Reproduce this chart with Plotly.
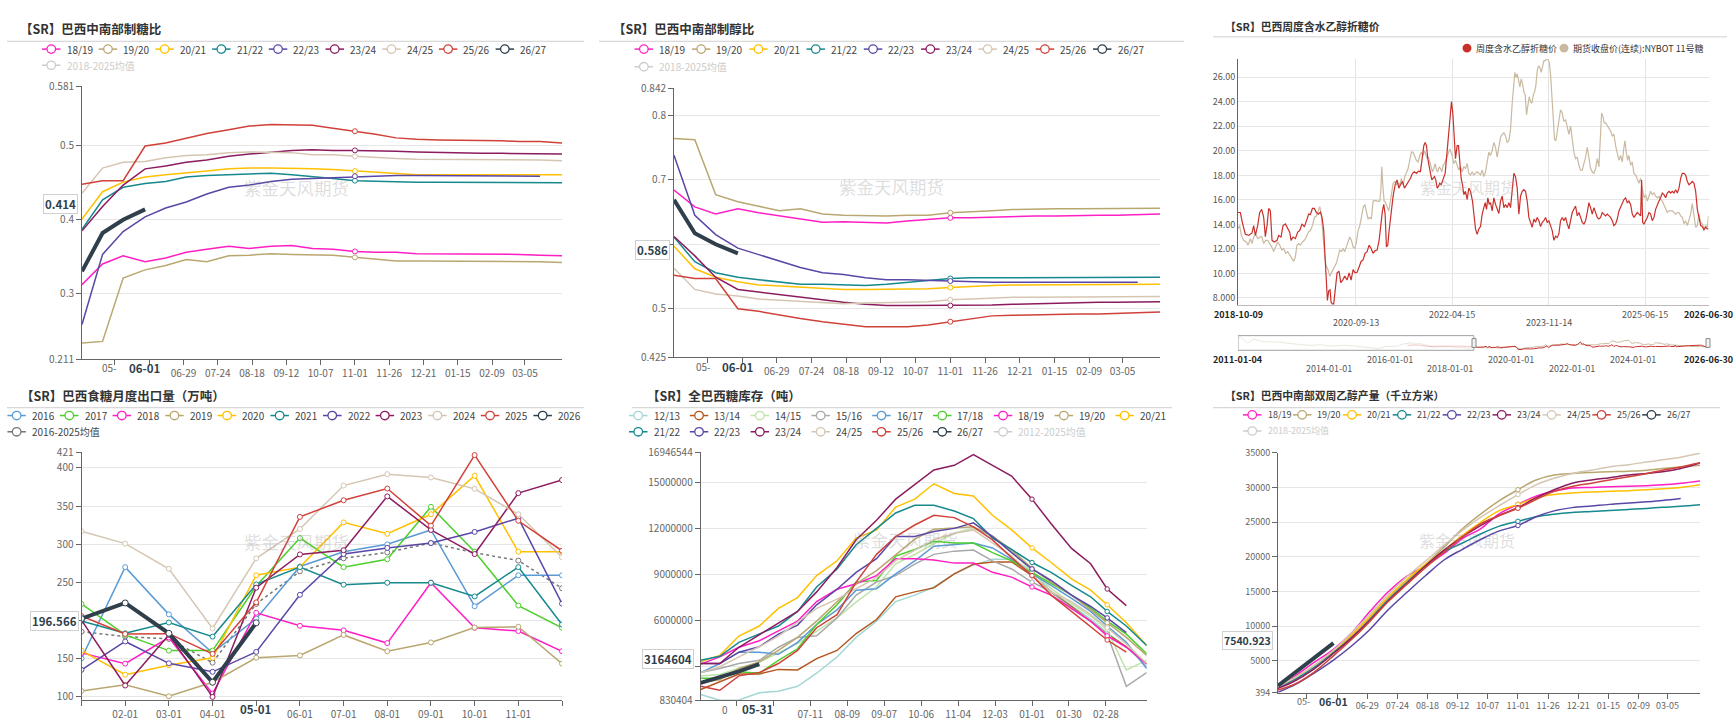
import plotly.graph_objects as go
import pandas as pd

W, H = 1734, 726
FONT = "Noto Sans CJK SC, Noto Sans, sans-serif"


def fx(p):
    return p / W


def fy(p):
    return 1 - p / H


# ===================== DATA =====================
season_dates = ['2025-04-16', '2025-05-01', '2025-05-16', '2025-06-01', '2025-06-16', '2025-07-01',
                '2025-07-16', '2025-08-01', '2025-08-16', '2025-09-01', '2025-09-16', '2025-10-01',
                '2025-10-16', '2025-11-01', '2025-11-16', '2025-12-01', '2025-12-16', '2026-01-01',
                '2026-01-16', '2026-02-01', '2026-02-16', '2026-03-01', '2026-03-16', '2026-04-01']

# --- panel 1: sugar mix (制糖比)
sugar_mix_1819 = [0.312, 0.34, 0.351, 0.343, 0.348, 0.356, 0.36, 0.364, 0.361, 0.364, 0.365, 0.361, 0.36, 0.357, 0.356, 0.356, 0.354, 0.354, 0.354, 0.353, 0.353, 0.353, 0.352, 0.351]
sugar_mix_1920 = [0.233, 0.235, 0.321, 0.332, 0.338, 0.346, 0.343, 0.351, 0.352, 0.354, 0.353, 0.352, 0.352, 0.349, 0.347, 0.344, 0.344, 0.344, 0.344, 0.344, 0.344, 0.344, 0.343, 0.342]
sugar_mix_2021 = [0.401, 0.438, 0.451, 0.458, 0.461, 0.464, 0.466, 0.469, 0.47, 0.47, 0.47, 0.469, 0.468, 0.466, 0.464, 0.462, 0.461, 0.461, 0.461, 0.461, 0.461, 0.461, 0.461, 0.461]
sugar_mix_2122 = [0.387, 0.427, 0.444, 0.449, 0.452, 0.458, 0.46, 0.461, 0.462, 0.463, 0.461, 0.459, 0.456, 0.453, 0.452, 0.451, 0.451, 0.451, 0.451, 0.451, 0.451, 0.451, 0.451, 0.45]
sugar_mix_2223 = [0.258, 0.353, 0.384, 0.404, 0.416, 0.424, 0.435, 0.444, 0.447, 0.452, 0.455, 0.456, 0.457, 0.459, 0.46, 0.46, 0.46, 0.46, 0.459, 0.459, 0.459, 0.459, 0.459]
sugar_mix_2324 = [0.385, 0.418, 0.447, 0.469, 0.473, 0.478, 0.481, 0.486, 0.489, 0.492, 0.494, 0.495, 0.494, 0.494, 0.494, 0.493, 0.492, 0.491, 0.491, 0.49, 0.49, 0.49, 0.49, 0.489]
sugar_mix_2425 = [0.436, 0.47, 0.478, 0.479, 0.484, 0.487, 0.488, 0.491, 0.492, 0.492, 0.491, 0.488, 0.488, 0.486, 0.484, 0.483, 0.482, 0.482, 0.482, 0.482, 0.481, 0.481, 0.481, 0.48]
sugar_mix_2526 = [0.448, 0.453, 0.453, 0.5, 0.504, 0.511, 0.517, 0.522, 0.527, 0.529, 0.529, 0.528, 0.524, 0.52, 0.516, 0.511, 0.509, 0.508, 0.508, 0.507, 0.507, 0.506, 0.506, 0.504]
sugar_mix_2627 = [0.33, 0.382, 0.40, 0.414]

# --- panel 2: ethanol mix (制醇比)
eth_mix_1819 = [0.684, 0.658, 0.647, 0.655, 0.649, 0.644, 0.639, 0.634, 0.635, 0.634, 0.633, 0.636, 0.638, 0.641, 0.641, 0.642, 0.644, 0.644, 0.644, 0.645, 0.645, 0.645, 0.646, 0.647]
eth_mix_1920 = [0.764, 0.762, 0.677, 0.666, 0.659, 0.652, 0.655, 0.647, 0.645, 0.644, 0.644, 0.645, 0.645, 0.649, 0.65, 0.652, 0.654, 0.655, 0.655, 0.655, 0.655, 0.655, 0.656, 0.656]
eth_mix_2021 = [0.597, 0.562, 0.549, 0.542, 0.537, 0.535, 0.533, 0.531, 0.53, 0.53, 0.53, 0.53, 0.531, 0.533, 0.535, 0.536, 0.537, 0.537, 0.537, 0.537, 0.537, 0.537, 0.538, 0.538]
eth_mix_2122 = [0.611, 0.573, 0.556, 0.549, 0.545, 0.541, 0.538, 0.538, 0.537, 0.536, 0.538, 0.541, 0.544, 0.547, 0.548, 0.548, 0.549, 0.549, 0.549, 0.549, 0.549, 0.549, 0.549, 0.549]
eth_mix_2223 = [0.738, 0.645, 0.615, 0.594, 0.584, 0.574, 0.564, 0.556, 0.553, 0.548, 0.545, 0.545, 0.544, 0.543, 0.541, 0.541, 0.541, 0.541, 0.541, 0.541, 0.541, 0.541, 0.541]
eth_mix_2324 = [0.612, 0.582, 0.549, 0.53, 0.526, 0.522, 0.519, 0.514, 0.51, 0.507, 0.505, 0.505, 0.505, 0.505, 0.506, 0.506, 0.507, 0.508, 0.509, 0.509, 0.51, 0.51, 0.51, 0.511]
eth_mix_2425 = [0.563, 0.53, 0.523, 0.52, 0.515, 0.513, 0.511, 0.509, 0.508, 0.509, 0.509, 0.51, 0.511, 0.514, 0.515, 0.517, 0.518, 0.518, 0.518, 0.518, 0.518, 0.519, 0.519, 0.519]
eth_mix_2526 = [0.552, 0.547, 0.547, 0.5, 0.496, 0.49, 0.485, 0.48, 0.476, 0.472, 0.472, 0.472, 0.475, 0.48, 0.485, 0.489, 0.49, 0.491, 0.491, 0.492, 0.492, 0.493, 0.493, 0.495]
eth_mix_2627 = [0.669, 0.617, 0.60, 0.586]

# --- panel 3: weekly hydrous ethanol sugar-equivalent price & NYBOT 11 (day offset from 2018-10-09, value)
ethanol_parity = [
    (0, 14.97), (14, 14.97), (28, 14.04), (44, 13.2), (64, 13.1), (84, 13.3), (94, 13.9), (104, 13.1), (118, 13.9), (130, 14.97),
    (142, 15.23), (154, 14.57), (164, 13.0), (174, 13.9), (184, 15.3), (194, 15.1), (204, 12.7), (218, 12.57), (234, 12.7), (244, 13.1),
    (258, 12.97), (270, 13.9), (284, 14.04), (298, 13.64), (310, 13.37), (318, 12.7), (330, 12.97), (344, 12.84), (358, 13.37), (370, 13.5),
    (384, 14.04), (398, 13.8), (410, 14.3), (424, 14.84), (434, 14.8), (446, 15.3), (458, 15.3), (470, 14.97), (482, 14.84), (494, 15.0),
    (504, 14.57), (514, 13.5), (522, 11.38), (530, 9.78), (536, 7.79), (544, 8.59), (552, 8.66), (558, 7.65), (566, 7.52), (574, 7.52),
    (584, 8.59), (594, 10.05), (606, 10.18), (616, 9.25), (628, 9.46), (640, 9.78), (654, 9.46), (666, 10.05), (678, 9.46), (690, 10.31),
    (702, 10.05), (714, 10.1), (726, 10.53), (738, 10.98), (750, 11.11), (762, 11.64), (774, 11.78), (786, 12.31), (798, 12.04), (810, 11.64),
    (822, 11.86), (834, 11.91), (846, 12.7), (856, 14.04), (866, 15.1), (874, 15.63), (882, 14.84), (890, 12.17), (898, 12.31), (906, 13.5),
    (914, 14.7), (922, 15.37), (930, 16.3), (942, 17.23), (954, 17.63), (964, 16.96), (974, 17.23), (986, 17.5), (998, 16.96), (1010, 17.23),
    (1022, 17.5), (1034, 17.76), (1046, 18.16), (1058, 18.3), (1070, 18.16), (1082, 18.35), (1094, 18.3), (1106, 19.36), (1114, 20.42), (1122, 20.69),
    (1130, 20.42), (1138, 19.36), (1146, 18.56), (1154, 18.16), (1162, 17.63), (1170, 17.76), (1178, 17.9), (1186, 17.63), (1194, 16.96), (1202, 17.1),
    (1210, 17.36), (1218, 17.23), (1226, 17.5), (1234, 17.76), (1242, 18.16), (1250, 19.36), (1258, 20.69), (1266, 21.75), (1274, 23.08), (1280, 24.01),
    (1288, 23.08), (1296, 20.96), (1304, 19.36), (1314, 20.42), (1322, 20.42), (1330, 19.09), (1338, 17.76), (1346, 17.23), (1354, 16.43), (1364, 16.7),
    (1374, 16.03), (1384, 16.96), (1394, 16.7),
    (1406, 15.9), (1414, 14.57), (1424, 13.64), (1434, 13.19), (1444, 13.64), (1454, 13.82), (1464, 14.84), (1474, 15.37), (1482, 15.77), (1490, 15.23),
    (1498, 16.17), (1506, 15.63), (1514, 15.77), (1524, 15.1), (1534, 16.17), (1544, 15.63), (1554, 15.23), (1564, 14.89), (1574, 15.9), (1584, 16.3),
    (1594, 15.37), (1604, 15.63), (1614, 15.37), (1624, 15.77), (1634, 15.37), (1644, 16.7), (1654, 18.16), (1664, 17.9), (1674, 16.96), (1684, 14.84),
    (1694, 16.3), (1704, 16.7), (1714, 16.83), (1724, 16.7), (1734, 15.9), (1744, 14.57), (1754, 14.17), (1764, 13.77), (1774, 14.44), (1784, 14.17),
    (1794, 14.57), (1804, 14.3), (1814, 13.82), (1824, 14.17), (1834, 14.3), (1844, 14.57), (1854, 14.17), (1864, 14.3), (1874, 13.9), (1884, 13.5),
    (1894, 12.7), (1904, 13.03), (1914, 12.92), (1924, 13.24), (1934, 14.3), (1944, 14.57), (1954, 14.3), (1964, 14.57), (1974, 14.04), (1984, 13.64),
    (1994, 14.3), (2004, 14.97), (2014, 15.23), (2024, 15.5), (2034, 14.7), (2044, 14.97), (2054, 14.57), (2064, 14.17), (2074, 14.04), (2084, 14.3),
    (2094, 14.97), (2104, 15.77), (2114, 15.37), (2124, 14.84), (2134, 15.37), (2144, 14.97), (2154, 14.57), (2164, 14.44), (2174, 14.57), (2184, 14.97),
    (2194, 14.84), (2204, 14.7), (2214, 14.84), (2224, 14.7), (2234, 14.57), (2244, 14.3), (2254, 13.9), (2264, 14.04), (2274, 14.44), (2284, 15.1),
    (2294, 15.37), (2304, 15.77), (2314, 16.03), (2324, 16.17), (2334, 15.77), (2344, 15.9), (2354, 15.63), (2364, 14.84), (2374, 14.57), (2384, 14.78),
    (2394, 14.97), (2404, 14.84), (2414, 14.7), (2420, 17.63), (2426, 14.17), (2434, 14.04), (2444, 14.3), (2454, 14.57), (2464, 14.97), (2474, 14.84),
    (2484, 14.3), (2494, 14.57), (2504, 15.23), (2514, 15.63), (2524, 15.9), (2534, 16.17), (2544, 16.56), (2554, 16.43), (2564, 16.17), (2574, 16.56),
    (2584, 16.7), (2594, 16.56), (2604, 16.7), (2614, 16.56), (2624, 16.83), (2634, 16.56), (2644, 16.96), (2654, 17.76), (2664, 18.16), (2674, 18.16),
    (2684, 18.03), (2694, 17.5), (2704, 17.23), (2714, 17.36), (2724, 17.5), (2734, 17.36), (2744, 16.7), (2754, 15.23), (2764, 14.57), (2774, 13.9),
    (2784, 13.82), (2794, 13.56), (2804, 13.77), (2814, 13.64), (2821, 13.64)]

nybot11 = [
    (0, 13.64), (10, 13.9), (20, 13.1), (34, 12.7), (50, 12.57), (60, 12.31), (74, 12.84), (84, 12.44), (94, 12.97), (106, 13.24),
    (118, 12.84), (130, 12.97), (142, 13.03), (154, 12.44), (166, 12.7), (178, 12.7), (190, 12.44), (202, 12.17), (214, 11.78), (226, 12.17),
    (238, 12.57), (250, 12.31), (262, 11.91), (274, 12.04), (286, 11.64), (298, 11.78), (310, 11.51), (322, 11.24), (334, 10.98), (344, 11.38),
    (354, 12.31), (364, 12.44), (374, 12.31), (386, 12.57), (398, 12.7), (410, 12.97), (422, 13.37), (434, 13.5), (446, 13.9), (458, 14.57),
    (470, 14.7), (482, 15.1), (490, 15.45), (498, 14.97), (506, 13.5), (514, 12.44), (522, 11.11), (530, 10.58), (540, 10.31), (550, 9.78),
    (560, 10.05), (570, 10.31), (580, 10.71), (590, 10.85), (600, 11.38), (610, 11.91), (620, 11.78), (630, 12.04), (640, 11.78), (650, 12.17),
    (660, 12.44), (670, 12.97), (680, 12.7), (690, 12.17), (700, 12.04), (710, 12.57), (720, 13.5), (730, 13.9), (740, 14.57), (750, 15.37),
    (760, 15.63), (770, 15.1), (780, 14.44), (790, 14.57), (800, 14.44), (810, 15.9), (818, 15.95), (826, 15.95), (834, 15.9), (842, 15.9),
    (850, 15.9), (856, 16.7), (862, 18.69), (868, 17.23), (876, 15.9), (884, 15.8), (894, 15.37), (904, 15.1), (914, 15.9), (922, 16.7),
    (930, 17.36), (940, 17.5), (950, 17.23), (960, 17.36), (970, 17.23), (980, 17.76), (990, 17.23), (1000, 17.9), (1010, 18.29), (1020, 18.56),
    (1030, 19.22), (1040, 19.89), (1050, 19.89), (1060, 19.62), (1070, 19.22), (1080, 19.09), (1090, 19.62), (1100, 19.89), (1110, 19.62), (1118, 20.02),
    (1126, 19.62), (1134, 19.36), (1142, 19.49), (1150, 19.09), (1158, 18.82), (1166, 18.29), (1174, 18.56), (1182, 18.96), (1190, 18.43), (1198, 18.29),
    (1206, 18.69), (1214, 18.56), (1222, 18.29), (1230, 18.82), (1238, 18.96), (1246, 19.22), (1254, 19.62), (1262, 19.89), (1270, 20.15),
    (1284, 19.62), (1294, 18.96), (1304, 19.22), (1314, 18.82), (1324, 18.43), (1334, 18.69), (1344, 18.29), (1354, 18.69), (1364, 18.56), (1374, 18.96),
    (1384, 18.16), (1394, 18.03), (1404, 18.29), (1414, 18.03), (1424, 18.16), (1434, 18.29), (1444, 18.16), (1454, 18.03), (1464, 18.43), (1474, 17.9),
    (1484, 18.29), (1494, 19.22), (1504, 19.89), (1514, 19.62), (1524, 20.02), (1534, 20.69), (1544, 20.29), (1554, 19.49), (1564, 20.29), (1574, 21.09),
    (1584, 21.35), (1594, 21.48), (1604, 21.22), (1614, 20.69), (1624, 20.82), (1634, 21.75), (1644, 23.88), (1654, 25.61), (1660, 26.4), (1666, 26.0),
    (1674, 26.27), (1682, 25.74), (1690, 25.21), (1698, 25.87), (1706, 25.47), (1714, 24.81), (1722, 24.54), (1730, 22.95), (1738, 23.74), (1746, 24.41),
    (1754, 24.01), (1762, 23.88), (1770, 24.54), (1778, 24.81), (1786, 25.34), (1794, 26.54), (1802, 26.94), (1810, 26.8), (1818, 26.4), (1826, 26.8),
    (1834, 27.34), (1842, 27.34), (1850, 27.52), (1858, 27.46), (1866, 27.2), (1874, 26.27), (1882, 24.41), (1890, 22.28), (1898, 20.95), (1906, 20.82),
    (1914, 21.62), (1924, 22.41), (1934, 23.35), (1944, 23.08), (1954, 22.41), (1964, 22.55), (1974, 21.88), (1984, 21.35), (1994, 22.02), (2004, 20.69),
    (2014, 19.89), (2024, 19.36), (2034, 19.49), (2044, 18.82), (2054, 18.43), (2064, 18.43), (2074, 18.96), (2084, 19.49), (2094, 20.29), (2104, 19.49),
    (2114, 18.56), (2124, 18.29), (2134, 18.16), (2144, 18.56), (2154, 19.36), (2164, 18.69), (2174, 21.48), (2180, 23.08), (2188, 22.81), (2196, 22.28),
    (2204, 22.28), (2214, 22.02), (2224, 21.88), (2234, 21.62), (2244, 21.22), (2254, 21.35), (2264, 20.42), (2274, 19.76), (2284, 19.22), (2294, 19.62),
    (2304, 19.09), (2314, 20.29), (2320, 20.82), (2328, 19.89), (2336, 19.22), (2344, 19.62), (2354, 18.82), (2364, 19.09), (2374, 18.16), (2384, 18.03),
    (2394, 17.63), (2404, 17.36), (2414, 17.76), (2424, 16.96), (2434, 16.17), (2444, 16.43), (2454, 15.9), (2464, 16.3), (2474, 16.7), (2484, 16.43),
    (2494, 16.56), (2504, 16.3), (2514, 16.17), (2524, 16.3), (2534, 16.03), (2544, 15.9), (2554, 15.63), (2564, 15.23), (2574, 14.97), (2584, 15.1),
    (2594, 15.1), (2604, 15.1), (2614, 14.97), (2624, 14.84), (2634, 14.97), (2644, 14.97), (2654, 14.7), (2664, 14.57), (2674, 14.04), (2684, 14.3),
    (2694, 13.9), (2704, 14.3), (2714, 14.84), (2724, 15.69), (2734, 14.84), (2744, 13.77), (2754, 13.9), (2764, 14.84), (2774, 14.17), (2784, 14.04),
    (2794, 13.64), (2804, 13.9), (2814, 13.77), (2821, 14.7)]

# slider: history before the zoom window (faded in the slider)
nybot11_early_dates = ['2011-01-04', '2011-02-01', '2011-05-01', '2011-07-15', '2011-10-01', '2012-01-01', '2012-04-01', '2012-07-15',
                       '2012-10-01', '2013-01-01', '2013-06-01', '2013-10-01', '2014-01-01', '2014-04-01', '2014-07-01', '2014-10-01',
                       '2015-01-01', '2015-04-01', '2015-08-20', '2015-11-01', '2016-01-01', '2016-04-01', '2016-06-01', '2016-09-15',
                       '2016-11-01', '2017-01-01', '2017-03-01', '2017-06-01', '2017-09-01', '2017-11-01', '2018-01-01', '2018-04-01',
                       '2018-06-01', '2018-08-20', '2018-10-09']
nybot11_early = [32, 35, 22, 30, 26, 24, 24.5, 22, 20, 19, 17, 18.5, 15.5, 17, 17.5, 16.5, 15, 13, 10.5, 14.5, 14.5, 15.5, 19.5, 22.5,
                 20, 20.5, 18, 13.5, 14, 15, 14.5, 12, 12.5, 10.5, 13.64]
ethanol_early_dates = ['2016-08-01', '2016-11-01', '2017-02-01', '2017-05-01', '2017-08-01', '2017-11-01', '2018-02-01', '2018-05-01',
                       '2018-08-01', '2018-10-09']
ethanol_early = [17.0, 18.0, 16.5, 15.0, 15.5, 16.0, 15.0, 15.5, 14.5, 14.97]

# --- panel 4: monthly exports (万吨)
export_months = ['01-01', '02-01', '03-01', '04-01', '05-01', '06-01', '07-01', '08-01', '09-01', '10-01', '11-01', '12-01']
exports_2016 = [149.7, 269.7, 207.6, 157, 202, 270.6, 289.9, 299.7, 318.6, 218.3, 259, 259]
exports_2017 = [221.3, 180.6, 160, 160, 244.9, 307.9, 269.7, 280, 349, 289.9, 219.2, 190]
exports_2018 = [157, 142.9, 177.2, 103.4, 209.7, 192.6, 186.6, 169.9, 249.2, 190, 185.7, 159.2]
exports_2019 = [106.9, 115, 100, 118.4, 150.6, 153.6, 180.6, 159.2, 170.7, 190.4, 191.3, 142.9]
exports_2020 = [160, 128.3, 140.7, 150.6, 259, 269.7, 328.5, 313.5, 339.2, 389.8, 289.9, 289.9]
exports_2021 = [199, 182.7, 196.9, 178.4, 247, 269.7, 246.6, 249.2, 249.2, 231.2, 269.7, 194.3]
exports_2022 = [134.7, 172, 143.3, 132.1, 158.3, 233.3, 286.9, 295, 301.4, 316, 334, 221.7]
exports_2023 = [199.9, 114.1, 180.6, 99.1, 242.7, 286.4, 292, 362.7, 318.6, 286.9, 367, 384.2]
exports_2024 = [316.9, 300.6, 267.6, 189.1, 281.3, 319.9, 376.9, 391.9, 387.6, 372.6, 339.2, 282.6]
exports_2025 = [205.4, 181.9, 182.3, 155.7, 223.4, 335.7, 357.6, 373, 324.2, 417, 330.6, 291.2]
exports_2026 = [202, 222.6, 182.7, 118.4, 196.566]
exports_avg = [184.9, 178.4, 175.4, 144.1, 221.3, 264.2, 281.3, 289, 301.4, 288.6, 278.3, 241.9]

# --- panel 5: Brazil sugar stocks (million tonnes)
stock_1213 = [1.2, 0.83, 0.84, 1.31, 1.41, 1.73, 2.58, 3.64, 4.91, 5.97, 7.24, 7.66, 8.19, 9.04, 9.61, 10.0, 10.0, 9.25, 7.9, 7.0, 6.1, 5.2, 4.3, 3.0]
stock_1314 = [1.52, 2.05, 2.53, 2.53, 2.83, 2.79, 3.53, 4.06, 5.16, 6.07, 7.55, 7.87, 8.13, 9.04, 9.67, 9.82, 9.82, 8.93, 7.87, 6.92, 5.97, 5.12, 4.3, 3.2]
stock_1415 = [2.4, 2.5, 2.9, 3.3, 3.9, 4.5, 5.3, 6.2, 7.2, 8.2, 9.7, 10.3, 11.0, 11.7, 12.0, 11.5, 10.5, 9.2, 8.1, 7.1, 6.3, 5.4, 2.79, 3.42]
stock_1516 = [2.62, 2.89, 3.21, 3.42, 4.27, 4.91, 5.01, 6.18, 7.66, 8.51, 8.93, 9.67, 10.31, 10.52, 10.59, 9.89, 9.36, 8.51, 7.87, 6.81, 5.97, 5.12, 1.73, 2.62]
stock_1617 = [2.62, 3.21, 3.95, 3.95, 3.81, 4.59, 5.75, 6.7, 7.98, 8.08, 9.04, 9.89, 10.84, 10.94, 11.05, 10.73, 9.99, 9.04, 8.3, 7.45, 6.6, 5.65, 4.59, 2.89]
stock_1718 = [2.26, 2.26, 2.68, 2.58, 3.42, 4.17, 5.75, 7.03, 8.51, 8.61, 10.2, 10.63, 11.16, 11.05, 11.05, 10.42, 9.89, 9.14, 8.4, 7.66, 6.81, 5.97, 5.12, 3.85]
stock_1819 = [3.17, 3.64, 4.27, 4.69, 5.33, 5.97, 7.24, 8.04, 8.4, 8.93, 10.03, 10.03, 9.95, 9.74, 9.74, 9.14, 8.83, 8.19, 7.66, 6.81, 5.97, 5.01, 4.27, 3.17]
stock_1920 = [1.98, 2.15, 2.89, 3.32, 4.06, 4.91, 5.97, 7.2, 8.4, 9.25, 10.3, 11.3, 11.95, 12.05, 12.1, 11.5, 10.6, 9.4, 8.51, 7.66, 6.7, 5.86, 4.91, 3.74]
stock_2021 = [3.32, 3.74, 5.0, 5.65, 6.8, 7.5, 8.93, 9.89, 11.37, 11.9, 13.38, 13.9, 14.9, 14.27, 14.1, 12.85, 11.9, 10.73, 9.78, 8.72, 7.98, 7.03, 5.86, 4.38]
stock_2122 = [3.42, 3.68, 4.59, 5.16, 5.65, 6.6, 8.19, 9.36, 10.94, 12.0, 13.0, 13.5, 13.5, 13.13, 12.64, 11.37, 10.63, 9.78, 9.14, 8.3, 7.55, 6.6, 5.65, 4.38]
stock_2223 = [3.21, 3.21, 3.95, 4.31, 5.12, 5.71, 7.03, 8.04, 9.14, 10.03, 11.47, 11.47, 11.79, 12.0, 12.36, 11.47, 10.42, 9.36, 8.61, 7.66, 6.92, 6.18, 5.22]
stock_2324 = [3.21, 3.21, 4.27, 5.1, 5.86, 6.6, 7.87, 9.46, 11.26, 12.53, 13.9, 14.86, 15.8, 16.1, 16.8, 16.1, 15.4, 13.9, 12.3, 10.7, 9.7, 8.06, 6.98]
stock_2425 = [2.62, 3.0, 3.64, 4.3, 5.0, 5.9, 6.8, 7.4, 8.1, 8.8, 9.9, 10.6, 11.26, 11.68, 11.9, 11.05, 10.2, 8.93, 7.87, 7.24, 6.39, 5.54, 4.48, 3.21]
stock_2526 = [1.73, 1.47, 2.41, 2.62, 3.21, 4.06, 5.54, 6.39, 8.51, 10.31, 11.47, 12.22, 12.85, 12.7, 12.1, 11.25, 10.1, 8.93, 7.66, 6.6, 5.65, 4.74, 3.95]
stock_2627 = [1.95, 2.3, 2.7, 3.164604]

# --- panel 6: cumulative bi-weekly ethanol output (千立方米)
eth_prod_1819 = [1002, 2883, 4765, 6646, 8998, 12056, 14878, 17230, 18642, 20523, 22640, 24051, 26168, 27579, 28755, 29461, 29931, 30025, 30119, 30213, 30260, 30402, 30637, 30966]
eth_prod_1920 = [1237, 2413, 3824, 6176, 8528, 11115, 13938, 16525, 18877, 21464, 24051, 26168, 28050, 29696, 31107, 31813, 32048, 32189, 32283, 32378, 32518, 32753, 32989, 33224]
eth_prod_2021 = [1237, 2648, 4294, 6411, 8763, 11350, 14173, 16760, 18877, 20994, 23110, 24992, 26638, 27579, 28520, 28990, 29225, 29367, 29461, 29555, 29696, 29837, 30025, 30402]
eth_prod_2122 = [1143, 2413, 4059, 6176, 8293, 10880, 13703, 16290, 18642, 20758, 22000, 23300, 24400, 25130, 25800, 26168, 26400, 26550, 26700, 26850, 27000, 27150, 27300, 27532]
eth_prod_2223 = [437, 1613, 3213, 5094, 7117, 9469, 12291, 14878, 17230, 19582, 21088, 22499, 23722, 24522, 25791, 26638, 27109, 27344, 27579, 27767, 27955, 28144, 28426]
eth_prod_2324 = [1002, 2178, 3824, 6035, 8293, 10786, 13561, 16195, 18642, 20994, 22876, 24522, 25933, 27109, 28520, 29696, 30637, 31107, 31437, 31813, 32048, 32283, 32753, 33553]
eth_prod_2425 = [1237, 2648, 4294, 6505, 8998, 11679, 14502, 17136, 19347, 21699, 23816, 25697, 27344, 28990, 30402, 31343, 32048, 32519, 32989, 33318, 33695, 34024, 34400, 34965]
eth_prod_2526 = [766, 1707, 3354, 5706, 8058, 10645, 13467, 16054, 18406, 20758, 22875, 24757, 25933, 27015, 28285, 29461, 30166, 30637, 31107, 31578, 32048, 32518, 32989, 33600]
eth_prod_2627 = [1378, 3354, 5470, 7540.923]

# ===================== STYLE =====================
SEASON_COL = {'12/13': '#a3d7d3', '13/14': '#b5561f', '14/15': '#bfe3a8', '15/16': '#a9a9a9', '16/17': '#5b9bd5',
              '17/18': '#4ccf2c', '18/19': '#ff1fc4', '19/20': '#b9a770', '20/21': '#ffc000', '21/22': '#15898d',
              '22/23': '#5a46a6', '23/24': '#8c1c5f', '24/25': '#d5c6b2', '25/26': '#d0413a', '26/27': '#2f3f4c'}
YEAR_COL = {'2016': '#5b9bd5', '2017': '#4ccf2c', '2018': '#ff1fc4', '2019': '#b9a770', '2020': '#ffc000',
            '2021': '#15898d', '2022': '#5a46a6', '2023': '#8c1c5f', '2024': '#d5c6b2', '2025': '#d0413a',
            '2026': '#2f3f4c'}
AVG_COL = '#777777'
RED = '#c9302c'
BEIGE = '#c9b9a1'
CUR = '#2f3f4c'
GRID = '#e6e6e6'
AXIS = '#666666'
TXT = '#666666'

fig = go.Figure()
shapes = []
ann = []


def add_line(xa, ya, x, y, color, width=1.5, dash=None, shape='linear', opacity=1.0):
    fig.add_trace(go.Scatter(x=x, y=y, xaxis=xa, yaxis=ya, mode='lines', opacity=opacity,
                             line=dict(color=color, width=width, dash=dash, shape=shape),
                             showlegend=False, hoverinfo='skip'))


def add_marks(xa, ya, x, y, color, size=5):
    fig.add_trace(go.Scatter(x=x, y=y, xaxis=xa, yaxis=ya, mode='markers',
                             marker=dict(symbol='circle', size=size, color='white', line=dict(color=color, width=1)),
                             showlegend=False, hoverinfo='skip'))


def text(x, y, s, size=10, color=TXT, bold=False, xanchor='center', yanchor='middle', xref='paper', yref='paper', **kw):
    if bold:
        s = '<b>' + s + '</b>'
    ann.append(dict(x=x, y=y, xref=xref, yref=yref, text=s, showarrow=False, xanchor=xanchor, yanchor=yanchor,
                    font=dict(family=FONT, size=size, color=color), **kw))


def title(x, y, s, x0, x1, yl, size=12.5):
    text(fx(x), fy(y), s, size=size, color='#333333', bold=True, xanchor='left')
    shapes.append(dict(type='line', xref='paper', yref='paper', x0=fx(x0), x1=fx(x1), y0=fy(yl), y1=fy(yl),
                       line=dict(color='#cfcfcf', width=1)))


def legend_row(items, x0, y, pitch, fs=10, icon=18.5, r=4.3):
    for i, (label, color, active) in enumerate(items):
        xs = x0 + i * pitch
        col = color if active else '#cccccc'
        shapes.append(dict(type='line', xref='paper', yref='paper', x0=fx(xs), x1=fx(xs + icon), y0=fy(y), y1=fy(y),
                           line=dict(color=col, width=1.5)))
        cx = xs + icon / 2
        shapes.append(dict(type='circle', xref='paper', yref='paper', x0=fx(cx - r), x1=fx(cx + r), y0=fy(y + r),
                           y1=fy(y - r), fillcolor='white', line=dict(color=col, width=1.3)))
        text(fx(xs + icon + 4), fy(y), label, size=fs, color='#444444' if active else '#cccccc', xanchor='left')


def watermark(x, y, size=17.5):
    text(fx(x), fy(y), '紫金天风期货', size=size, color='rgba(150,150,150,0.32)')


def pointer_label(x_right, yval, yref, s, size=11.5, shift=0):
    text(fx(x_right), yval, s, size=size, color='#2f3f4c', bold=True, xanchor='right', yref=yref,
         bgcolor='white', bordercolor='#d0d0d0', borderwidth=1, borderpad=1, yshift=shift)


def yaxis(top, bot, anchor, rng, vals, texts, fs=10, ticks='outside'):
    return dict(domain=[fy(bot), fy(top)], anchor=anchor, range=rng, tickmode='array', tickvals=vals, ticktext=texts,
                showgrid=True, gridcolor=GRID, gridwidth=1, zeroline=False, showline=True, linecolor=AXIS,
                linewidth=1, ticks=ticks, ticklen=5, tickcolor=AXIS, tickfont=dict(family=FONT, size=fs, color=TXT),
                fixedrange=True)


def xaxis(left, right, anchor, rng, vals, texts, fs=10, typ='date', ticks='outside'):
    return dict(domain=[fx(left), fx(right)], anchor=anchor, range=rng, type=typ, tickmode='array', tickvals=vals,
                ticktext=texts, showgrid=False, zeroline=False, showline=True, linecolor=AXIS, linewidth=1,
                ticks=ticks, ticklen=5, tickcolor=AXIS, tickfont=dict(family=FONT, size=fs, color=TXT),
                fixedrange=True)


season_range = ['2025-04-16', '2026-04-01']
reg_ticks = ['2025-05-10', '2025-06-04', '2025-06-29', '2025-07-24', '2025-08-18', '2025-09-12', '2025-10-07',
             '2025-11-01', '2025-11-26', '2025-12-21', '2026-01-15', '2026-02-09', '2026-03-05']
reg_text = ['', '', '06-29', '07-24', '08-18', '09-12', '10-07', '11-01', '11-26', '12-21', '01-15', '02-09', '03-05']

# ===================== PANEL 1 =====================
p1 = [('18/19', sugar_mix_1819), ('19/20', sugar_mix_1920), ('20/21', sugar_mix_2021), ('21/22', sugar_mix_2122),
      ('22/23', sugar_mix_2223), ('23/24', sugar_mix_2324), ('24/25', sugar_mix_2425), ('25/26', sugar_mix_2526)]
for name, vals in p1:
    add_line('x', 'y', season_dates[:len(vals)], vals, SEASON_COL[name])
    add_marks('x', 'y', [season_dates[13]], [vals[13]], SEASON_COL[name], 5)
add_line('x', 'y', season_dates[:len(sugar_mix_2627)], sugar_mix_2627, CUR, width=4)

# ===================== PANEL 2 =====================
p2 = [('18/19', eth_mix_1819), ('19/20', eth_mix_1920), ('20/21', eth_mix_2021), ('21/22', eth_mix_2122),
      ('22/23', eth_mix_2223), ('23/24', eth_mix_2324), ('24/25', eth_mix_2425), ('25/26', eth_mix_2526)]
for name, vals in p2:
    add_line('x2', 'y2', season_dates[:len(vals)], vals, SEASON_COL[name])
    add_marks('x2', 'y2', [season_dates[13]], [vals[13]], SEASON_COL[name], 5)
add_line('x2', 'y2', season_dates[:len(eth_mix_2627)], eth_mix_2627, CUR, width=4)

# ===================== PANEL 3 =====================
base = pd.Timestamp('2018-10-09')
eth_x = [(base + pd.Timedelta(days=d)).strftime('%Y-%m-%d') for d, _ in ethanol_parity]
eth_y = [v for _, v in ethanol_parity]
ny_x = [(base + pd.Timedelta(days=d)).strftime('%Y-%m-%d') for d, _ in nybot11]
ny_y = [v for _, v in nybot11]
add_line('x3', 'y3', ny_x, ny_y, BEIGE, width=1.2)
add_line('x3', 'y3', eth_x, eth_y, RED, width=1.2)

# slider (data zoom) mini chart
add_line('x7', 'y7', nybot11_early_dates, nybot11_early, BEIGE, width=1, opacity=0.35)
add_line('x7', 'y7', ethanol_early_dates, ethanol_early, RED, width=1, opacity=0.25)
add_line('x7', 'y7', ny_x, ny_y, BEIGE, width=1)
add_line('x7', 'y7', eth_x, eth_y, RED, width=1)

# ===================== PANEL 4 =====================
p4 = [('2016', exports_2016), ('2017', exports_2017), ('2018', exports_2018), ('2019', exports_2019),
      ('2020', exports_2020), ('2021', exports_2021), ('2022', exports_2022), ('2023', exports_2023),
      ('2024', exports_2024), ('2025', exports_2025)]
fig.add_trace(go.Scatter(x=export_months, y=exports_avg, xaxis='x4', yaxis='y4', mode='lines+markers',
                         line=dict(color=AVG_COL, width=1.5, dash='dot'),
                         marker=dict(size=5, color='white', line=dict(color=AVG_COL, width=1)),
                         showlegend=False, hoverinfo='skip'))
for name, vals in p4:
    fig.add_trace(go.Scatter(x=export_months[:len(vals)], y=vals, xaxis='x4', yaxis='y4', mode='lines+markers',
                             line=dict(color=YEAR_COL[name], width=1.5),
                             marker=dict(size=5, color='white', line=dict(color=YEAR_COL[name], width=1)),
                             showlegend=False, hoverinfo='skip'))
fig.add_trace(go.Scatter(x=export_months[:len(exports_2026)], y=exports_2026, xaxis='x4', yaxis='y4',
                         mode='lines+markers', line=dict(color=CUR, width=4),
                         marker=dict(size=6, color='white', line=dict(color=CUR, width=1)),
                         showlegend=False, hoverinfo='skip'))

# ===================== PANEL 5 =====================
p5 = [('12/13', stock_1213), ('13/14', stock_1314), ('14/15', stock_1415), ('15/16', stock_1516),
      ('16/17', stock_1617), ('17/18', stock_1718), ('18/19', stock_1819), ('19/20', stock_1920),
      ('20/21', stock_2021), ('21/22', stock_2122), ('22/23', stock_2223), ('23/24', stock_2324),
      ('24/25', stock_2425), ('25/26', stock_2526)]
for name, vals in p5:
    t = [v * 1e6 for v in vals]
    add_line('x5', 'y5', season_dates[:len(t)], t, SEASON_COL[name])
    add_marks('x5', 'y5', [season_dates[17], season_dates[21]], [t[17], t[21]], SEASON_COL[name], 4.5)
add_line('x5', 'y5', season_dates[:len(stock_2627)], [v * 1e6 for v in stock_2627], CUR, width=4)

# ===================== PANEL 6 =====================
p6 = [('18/19', eth_prod_1819), ('19/20', eth_prod_1920), ('20/21', eth_prod_2021), ('21/22', eth_prod_2122),
      ('22/23', eth_prod_2223), ('23/24', eth_prod_2324), ('24/25', eth_prod_2425), ('25/26', eth_prod_2526)]
for name, vals in p6:
    add_line('x6', 'y6', season_dates[:len(vals)], vals, SEASON_COL[name], shape='spline')
    add_marks('x6', 'y6', [season_dates[13]], [vals[13]], SEASON_COL[name], 4.5)
add_line('x6', 'y6', season_dates[:len(eth_prod_2627)], eth_prod_2627, CUR, width=4)

# ===================== AXES =====================
layout_axes = dict(
    xaxis=xaxis(82, 562, 'y', season_range, reg_ticks, reg_text),
    yaxis=yaxis(79, 358, 'x', [0.211, 0.581], [0.211, 0.3, 0.4, 0.5, 0.581], ['0.211', '0.3', '0.4', '0.5', '0.581']),
    xaxis2=xaxis(674, 1160, 'y2', season_range, reg_ticks, reg_text),
    yaxis2=yaxis(81, 356, 'x2', [0.425, 0.842], [0.425, 0.5, 0.6, 0.7, 0.8, 0.842],
                 ['0.425', '0.5', '', '0.7', '0.8', '0.842']),
    xaxis3=dict(domain=[fx(1238), fx(1708.5)], anchor='y3', type='date', range=['2018-10-09', '2026-06-30'],
                tickmode='array', tickvals=['2020-09-13', '2022-04-15', '2023-11-14', '2025-06-15'],
                showticklabels=False, ticks='', showgrid=True, gridcolor='#e3e3e3', showline=True,
                linecolor='#bbbbbb', zeroline=False, fixedrange=True),
    yaxis3=dict(domain=[fy(303), fy(51)], anchor='x3', range=[7.4, 27.5], tickmode='array',
                tickvals=[8, 10, 12, 14, 16, 18, 20, 22, 24, 26],
                ticktext=['8.000', '10.00', '12.00', '14.00', '16.00', '18.00', '20.00', '22.00', '24.00', '26.00'],
                showgrid=True, gridcolor=GRID, showline=True, linecolor=AXIS, ticks='', zeroline=False,
                tickfont=dict(family=FONT, size=9, color='#555555'), fixedrange=True),
    xaxis7=dict(domain=[fx(1238), fx(1708.5)], anchor='y7', type='date', range=['2011-01-04', '2026-06-30'],
                visible=False, fixedrange=True),
    yaxis7=dict(domain=[fy(349), fy(334)], anchor='x7', range=[7, 37], visible=False, fixedrange=True),
    xaxis4=xaxis(81.5, 562, 'y4', [0, 11], export_months,
                 ['', '02-01', '03-01', '04-01', '', '06-01', '07-01', '08-01', '09-01', '10-01', '11-01', ''],
                 typ='category'),
    yaxis4=yaxis(453, 706.7, 'x4', [94.9, 421], [100, 150, 200, 250, 300, 350, 400, 421],
                 ['100', '150', '', '250', '300', '350', '400', '421']),
    xaxis5=xaxis(700.7, 1146.7, 'y5', season_range,
                 ['2025-05-14', '2025-06-12', '2025-07-11', '2025-08-09', '2025-09-07', '2025-10-06', '2025-11-04',
                  '2025-12-03', '2026-01-01', '2026-01-30', '2026-02-28'],
                 ['', '', '07-11', '08-09', '09-07', '10-06', '11-04', '12-03', '01-01', '01-30', '02-28']),
    yaxis5=yaxis(453.3, 706.7, 'x5', [830404, 16946544],
                 [830404, 3000000, 6000000, 9000000, 12000000, 15000000, 16946544],
                 ['830404', '', '6000000', '9000000', '12000000', '15000000', '16946544']),
    xaxis6=xaxis(1278, 1700, 'y6', season_range, reg_ticks, reg_text, fs=9),
    yaxis6=yaxis(454, 699, 'x6', [394, 35000], [394, 5000, 10000, 15000, 20000, 25000, 30000, 35000],
                 ['394', '5000', '10000', '15000', '20000', '25000', '30000', '35000'], fs=9),
)

# ===================== TITLES / LEGENDS / LABELS =====================
title(18, 20, '【SR】巴西中南部制糖比', 7, 584, 33)
title(611, 20, '【SR】巴西中南部制醇比', 599, 1184, 33)
title(1223, 17, '【SR】巴西周度含水乙醇折糖价', 1213, 1727, 28.5, size=10.8)
title(18.5, 395, '【SR】巴西食糖月度出口量（万吨）', 7, 584, 407.7)
title(645, 395, '【SR】全巴西糖库存（吨）', 632, 1172, 407.7)
title(1223, 395, '【SR】巴西中南部双周乙醇产量（千立方米）', 1213, 1720, 407.7, size=10.8)

seasons9 = ['18/19', '19/20', '20/21', '21/22', '22/23', '23/24', '24/25', '25/26', '26/27']
row_seasons = [(s, SEASON_COL[s], True) for s in seasons9]
legend_row(row_seasons, 42, 41, 56.7)
legend_row([('2018-2025均值', '#cccccc', False)], 42, 57.5, 56.7)
legend_row(row_seasons, 634.6, 41, 57.3)
legend_row([('2018-2025均值', '#cccccc', False)], 634.6, 59, 57.3)
legend_row(row_seasons, 1243, 415, 49.9, fs=9)
legend_row([('2018-2025均值', '#cccccc', False)], 1243, 431.5, 49.9, fs=9)

years = ['2016', '2017', '2018', '2019', '2020', '2021', '2022', '2023', '2024', '2025', '2026']
legend_row([(y, YEAR_COL[y], True) for y in years], 7.4, 415.7, 52.6)
legend_row([('2016-2025均值', AVG_COL, True)], 7.4, 432.3, 52.6)

s5a = ['12/13', '13/14', '14/15', '15/16', '16/17', '17/18', '18/19', '19/20', '20/21']
s5b = ['21/22', '22/23', '23/24', '24/25', '25/26', '26/27']
legend_row([(s, SEASON_COL[s], True) for s in s5a], 629, 415.7, 60.8)
legend_row([(s, SEASON_COL[s], True) for s in s5b] + [('2012-2025均值', '#cccccc', False)], 629, 432.3, 60.8)

# panel 3 legend (filled dots)
for cx, col, lab in [(1467, RED, '周度含水乙醇折糖价'), (1564, BEIGE, '期货收盘价(连续):NYBOT 11号糖')]:
    shapes.append(dict(type='circle', xref='paper', yref='paper', x0=fx(cx - 4.5), x1=fx(cx + 4.5),
                       y0=fy(40 + 4.5), y1=fy(40 - 4.5), fillcolor=col, line=dict(color=col, width=0)))
    text(fx(cx + 7), fy(40), lab, size=9, color='#333333', xanchor='left')

# panel 3 date labels (two staggered rows)
for d, row, bold in [('2018-10-09', 312, True), ('2020-09-13', 321, False), ('2022-04-15', 312, False),
                     ('2023-11-14', 321, False), ('2025-06-15', 312, False), ('2026-06-30', 312, True)]:
    text(d, fy(row), d, size=9, color='#222222' if bold else '#555555', bold=bold, xref='x3')

# slider frame & handles & labels
shapes.append(dict(type='rect', xref='x7', yref='paper', x0='2011-01-04', x1='2018-10-09', y0=fy(349), y1=fy(334),
                   line=dict(color='#a0a0a0', width=1), fillcolor='rgba(0,0,0,0)'))
for hx in [1474, 1708]:
    shapes.append(dict(type='rect', xref='paper', yref='paper', x0=fx(hx - 2), x1=fx(hx + 2), y0=fy(346),
                       y1=fy(337), line=dict(color='#8a8a8a', width=1), fillcolor='#f2f2f2'))
for d, row, bold in [('2011-01-04', 358, True), ('2014-01-01', 368, False), ('2016-01-01', 358, False),
                     ('2018-01-01', 368, False), ('2020-01-01', 358, False), ('2022-01-01', 368, False),
                     ('2024-01-01', 358, False), ('2026-06-30', 358, True)]:
    text(d, fy(row), d, size=9, color='#222222' if bold else '#555555', bold=bold, xref='x7')

# current-period x labels
text('2025-06-01', fy(367), '06-01', size=11.5, color='#2f3f4c', bold=True, xref='x')
text(fx(110), fy(367), '05-', size=10, color=TXT)
text('2025-06-01', fy(366), '06-01', size=11.5, color='#2f3f4c', bold=True, xref='x2')
text(fx(703), fy(366), '05-', size=10, color=TXT)
text('05-01', fy(716), '05-01', size=11.5, color='#2f3f4c', bold=True, xref='x4')
text('2025-05-31', fy(716), '05-31', size=11.5, color='#2f3f4c', bold=True, xref='x5')
text(fx(725), fy(716), '0', size=10, color=TXT)
text('2025-06-01', fy(708), '06-01', size=10.5, color='#2f3f4c', bold=True, xref='x6')
text(fx(1303), fy(708), '05-', size=9, color=TXT)

# axis-pointer value labels
pointer_label(78, sugar_mix_2627[-1], 'y', '0.414', shift=5)
pointer_label(670, eth_mix_2627[-1], 'y2', '0.586', shift=3)
pointer_label(79, exports_2026[-1], 'y4', '196.566', shift=2)
pointer_label(694, stock_2627[-1] * 1e6, 'y5', '3164604', shift=5)
pointer_label(1273, eth_prod_2627[-1], 'y6', '7540.923', size=10.5, shift=3)

# watermarks
watermark(296, 183)
watermark(892, 182)
watermark(1468, 182, 16)
watermark(296, 545)
watermark(905, 542)
watermark(1467, 543, 16)

fig.update_layout(width=W, height=H, margin=dict(l=0, r=0, t=0, b=0), paper_bgcolor='white',
                  plot_bgcolor='white', showlegend=False, hovermode=False, shapes=shapes, annotations=ann,
                  font=dict(family=FONT), **layout_axes)

fig.write_html('out.html')
